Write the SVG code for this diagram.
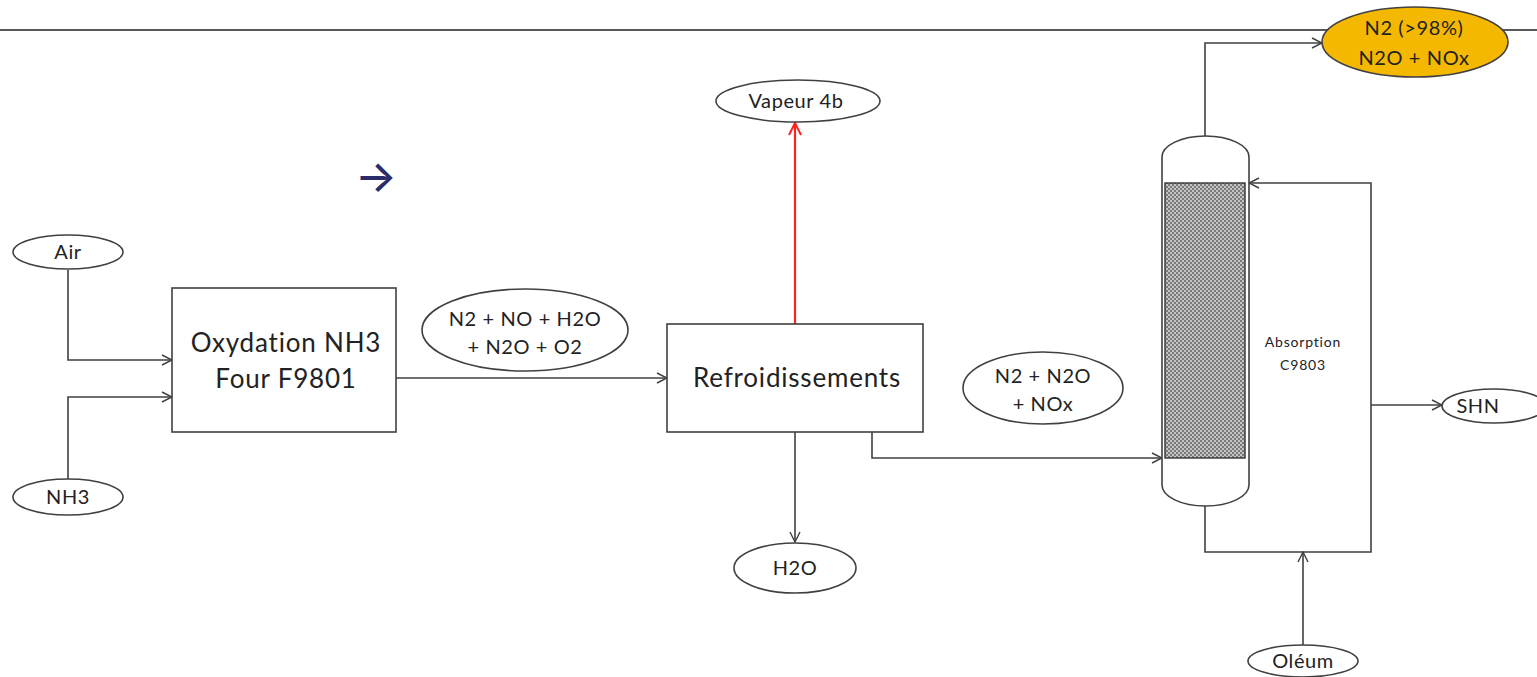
<svg xmlns="http://www.w3.org/2000/svg" width="1537" height="677" viewBox="0 0 1537 677">
<style>
.ln{fill:none;stroke:#404040;stroke-width:1.6}
.nd{fill:#fff;stroke:#404040;stroke-width:1.6}
.t{font-family:Lato,"Open Sans","Liberation Sans",sans-serif;fill:#222;text-anchor:middle}
.e{font-size:20px;letter-spacing:0.6px}
.b{font-size:26px;letter-spacing:0.8px}
</style>
<defs>
<marker id="ar" viewBox="0 0 12 12" refX="11" refY="6" markerWidth="12" markerHeight="12" markerUnits="userSpaceOnUse" orient="auto">
<path d="M1,1 L11,6 L1,11" fill="none" stroke="#404040" stroke-width="1.4"/>
</marker>
<marker id="arr" viewBox="0 0 14 14" refX="13" refY="7" markerWidth="14" markerHeight="14" markerUnits="userSpaceOnUse" orient="auto">
<path d="M1,1 L13,7 L1,13" fill="none" stroke="#ff2020" stroke-width="2"/>
</marker>
<pattern id="pk" width="4" height="4" patternUnits="userSpaceOnUse">
<rect width="4" height="4" fill="#c4c4c4"/>
<rect width="2" height="2" fill="#7a7a7a"/>
<rect x="2" y="2" width="2" height="2" fill="#7a7a7a"/>
</pattern>
</defs>
<rect width="1537" height="677" fill="#fff"/>
<line x1="0" y1="30" x2="1537" y2="30" stroke="#222" stroke-width="1.6"/>
<g id="connectors">
<path class="ln" d="M68,270 V360 H172" marker-end="url(#ar)"/>
<path class="ln" d="M68,479 V397 H172" marker-end="url(#ar)"/>
<path class="ln" d="M396,378 H667" marker-end="url(#ar)"/>
<path d="M795,324 V123" fill="none" stroke="#ff2020" stroke-width="2.2" marker-end="url(#arr)"/>
<path class="ln" d="M795,432 V542" marker-end="url(#ar)"/>
<path class="ln" d="M872,432 V458 H1162" marker-end="url(#ar)"/>
<path class="ln" d="M1205,136 V43 H1322" marker-end="url(#ar)"/>
<path class="ln" d="M1205,506 V552 H1371 V183 H1249" marker-end="url(#ar)"/>
<path class="ln" d="M1303,645 V552" marker-end="url(#ar)"/>
<path class="ln" d="M1371,405 H1442" marker-end="url(#ar)"/>
</g>
<g id="air"><ellipse class="nd" cx="68" cy="252" rx="55" ry="17"/><text class="t e" x="68" y="259">Air</text></g>
<g id="nh3"><ellipse class="nd" cx="68" cy="497" rx="55" ry="18"/><text class="t e" x="68" y="504">NH3</text></g>
<g id="oxydation"><rect class="nd" x="172" y="288" width="224" height="144"/><text class="t b" x="286" y="352">Oxydation NH3</text><text class="t b" x="286" y="388">Four F9801</text></g>
<g id="gaz1"><ellipse class="nd" cx="525" cy="330" rx="103" ry="41"/><text class="t e" x="525" y="326">N2 + NO + H2O</text><text class="t e" x="525" y="354">+ N2O + O2</text></g>
<g id="refroid"><rect class="nd" x="667" y="324" width="256" height="108"/><text class="t b" x="797" y="387">Refroidissements</text></g>
<g id="vapeur"><ellipse class="nd" cx="798" cy="101" rx="82" ry="21"/><text class="t e" x="796" y="108">Vapeur 4b</text></g>
<g id="h2o"><ellipse class="nd" cx="795" cy="568" rx="61" ry="25"/><text class="t e" x="795" y="575">H2O</text></g>
<g id="gaz2"><ellipse class="nd" cx="1043" cy="388" rx="80" ry="36"/><text class="t e" x="1043" y="383">N2 + N2O</text><text class="t e" x="1043" y="411">+ NOx</text></g>
<g id="column">
<path class="nd" d="M1162,485 V157 A43.5,21 0 0 1 1249,157 V485 A43.5,21 0 0 1 1162,485 Z"/>
<rect x="1165" y="183" width="80" height="275" fill="url(#pk)" stroke="#333" stroke-width="1.4"/>
<text class="t" x="1303" y="347" font-size="14" font-family="'DejaVu Sans',sans-serif" letter-spacing="0.8">Absorption</text>
<text class="t" x="1303" y="370" font-size="14" font-family="'DejaVu Sans',sans-serif" letter-spacing="0.8">C9803</text>
</g>
<g id="n2out"><ellipse cx="1415" cy="42" rx="93" ry="35" fill="#f5b800" stroke="#404040" stroke-width="1.6"/><text class="t e" x="1414" y="35">N2 (&gt;98%)</text><text class="t e" x="1414" y="65">N2O + NOx</text></g>
<g id="shn"><ellipse class="nd" cx="1494" cy="406" rx="52" ry="17"/><text class="t e" x="1478" y="413">SHN</text></g>
<g id="oleum"><ellipse class="nd" cx="1303" cy="661" rx="55" ry="16"/><text class="t e" x="1303" y="668">Oléum</text></g>
<text x="376" y="192" font-size="44" font-weight="500" font-family="Inter,'Noto Sans',sans-serif" fill="#2b2a6b" text-anchor="middle">→</text>
</svg>
